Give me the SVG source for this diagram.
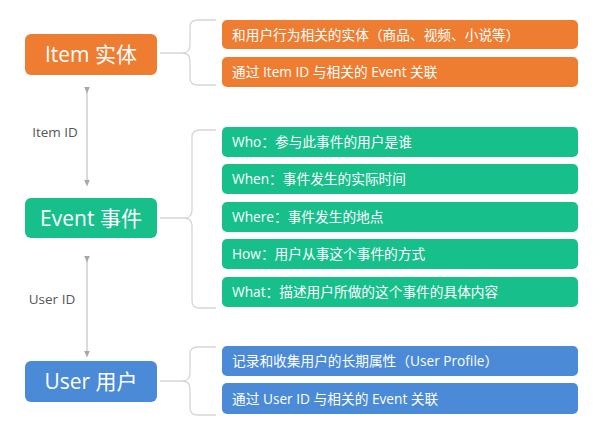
<svg xmlns="http://www.w3.org/2000/svg" width="600" height="430" viewBox="0 0 600 430">
<defs>
<style>
.t{font-family:"Open Sans","Noto Sans CJK SC",sans-serif;fill:#fff}
.big{font-size:21px}
.sm{font-size:13.7px}
.lab{font-family:"Open Sans","Noto Sans CJK SC",sans-serif;font-size:13.5px;fill:#555}
.o{fill:#EF7D31}
.g{fill:#17BF8B}
.b{fill:#4A8AD6}
.br{fill:none;stroke:#d6d6d6;stroke-width:1.3}
.ar{stroke:#bbbbbb;stroke-width:1.1}
</style>
<marker id="ah" markerWidth="7" markerHeight="7" refX="3.5" refY="3.5" orient="auto" markerUnits="userSpaceOnUse">
<path d="M0,0.5 L7,3.5 L0,6.5 Z" fill="#a8a8a8"/>
</marker>
</defs>
<rect width="600" height="430" fill="#fff"/>
<g id="connectors">
<line class="ar" x1="87" y1="90" x2="87" y2="183" marker-start="url(#ah)" marker-end="url(#ah)"/>
<line class="ar" x1="87" y1="259" x2="87" y2="354" marker-start="url(#ah)" marker-end="url(#ah)"/>
<path class="br" d="M160,53 L182,53 Q190,53 190,45 L190,27 Q190,20 198,20 L216,20 M182,53 Q190,53 190,61 L190,78 Q190,85 198,85 L216,85"/>
<path class="br" d="M160,218 L184,218 Q192,218 192,210 L192,137 Q192,130 200,130 L216,130 M184,218 Q192,218 192,226 L192,301 Q192,308 200,308 L216,308"/>
<path class="br" d="M160,381 L182,381 Q190,381 190,373 L190,354 Q190,347 198,347 L216,347 M182,381 Q190,381 190,389 L190,408 Q190,415 198,415 L216,415"/>
</g>
<g id="label-itemid"><text class="lab" x="55" y="137" text-anchor="middle">Item ID</text></g>
<g id="label-userid"><text class="lab" x="52" y="304" text-anchor="middle">User ID</text></g>
<g id="item">
<rect class="o" x="25" y="34" width="132" height="41" rx="6"/>
<text class="t big" x="91" y="62" text-anchor="middle">Item 实体</text>
</g>
<g id="event">
<rect class="g" x="25" y="198" width="132" height="40" rx="6"/>
<text class="t big" x="91" y="225.5" text-anchor="middle">Event 事件</text>
</g>
<g id="user">
<rect class="b" x="25" y="361" width="132" height="41" rx="6"/>
<text class="t big" x="91" y="389" text-anchor="middle">User 用户</text>
</g>
<g id="item-1"><rect class="o" x="222" y="20" width="356" height="29" rx="5"/><text class="t sm" x="232" y="39.5">和用户行为相关的实体（商品、视频、小说等）</text></g>
<g id="item-2"><rect class="o" x="222" y="57" width="356" height="30" rx="5"/><text class="t sm" x="232" y="77">通过 Item ID 与相关的 Event 关联</text></g>
<g id="event-1"><rect class="g" x="222" y="127" width="356" height="30" rx="5"/><text class="t sm" x="232" y="147">Who：参与此事件的用户是谁</text></g>
<g id="event-2"><rect class="g" x="222" y="164" width="356" height="30" rx="5"/><text class="t sm" x="232" y="184">When：事件发生的实际时间</text></g>
<g id="event-3"><rect class="g" x="222" y="202" width="356" height="30" rx="5"/><text class="t sm" x="232" y="222">Where：事件发生的地点</text></g>
<g id="event-4"><rect class="g" x="222" y="239" width="356" height="30" rx="5"/><text class="t sm" x="232" y="259">How：用户从事这个事件的方式</text></g>
<g id="event-5"><rect class="g" x="222" y="277" width="356" height="30" rx="5"/><text class="t sm" x="232" y="297">What：描述用户所做的这个事件的具体内容</text></g>
<g id="user-1"><rect class="b" x="222" y="346" width="356" height="30" rx="5"/><text class="t sm" x="232" y="366">记录和收集用户的长期属性（User Profile）</text></g>
<g id="user-2"><rect class="b" x="222" y="383" width="356" height="31" rx="5"/><text class="t sm" x="232" y="403.5">通过 User ID 与相关的 Event 关联</text></g>
</svg>
